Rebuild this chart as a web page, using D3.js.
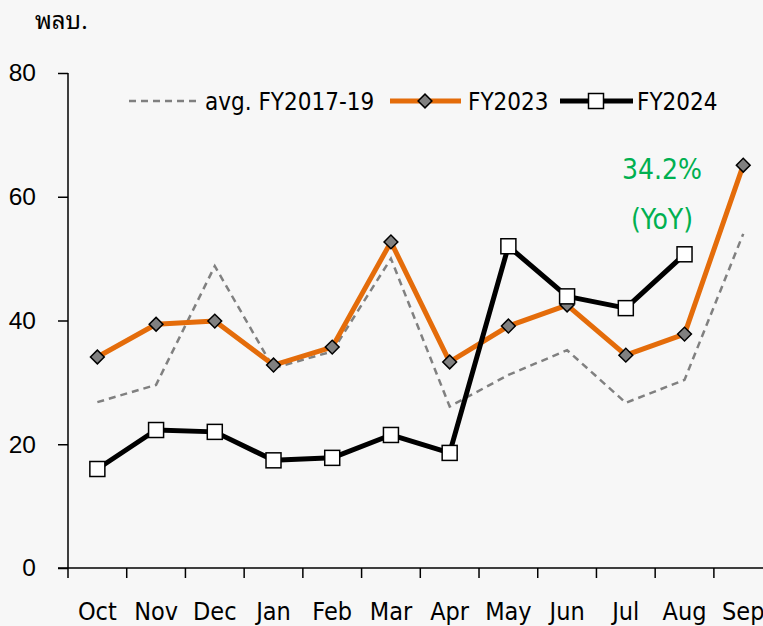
<!DOCTYPE html>
<html>
<head>
<meta charset="utf-8">
<script src="https://cdn.jsdelivr.net/npm/d3@7"></script>
<style>
  body { margin: 0; background: #f7f7f7; }
  svg { display: block; font-family: "DejaVu Sans Condensed", "DejaVu Sans", sans-serif; }
</style>
</head>
<body>
<div id="chart"></div>
<script>
const months = ["Oct", "Nov", "Dec", "Jan", "Feb", "Mar", "Apr", "May", "Jun", "Jul", "Aug", "Sep"];
const avg1719 = [26.8, 29.6, 48.8, 32.3, 35.0, 50.0, 26.1, 31.2, 35.2, 26.7, 30.4, 54.0];
const fy2023 = [34.1, 39.4, 39.9, 32.8, 35.7, 52.7, 33.3, 39.1, 42.5, 34.4, 37.8, 65.1];
const fy2024 = [16.0, 22.3, 22.0, 17.4, 17.8, 21.5, 18.6, 52.0, 43.9, 42.0, 50.7];
const yTicks = [0, 20, 40, 60, 80];

const colors = {
    avg: "#808080",
    fy23: "#e46c0a",
    fy24: "#000000",
    yoy: "#00b050"
};

const width = 763;
const height = 626;

const svg = d3.select("#chart")
    .append("svg")
    .attr("width", width)
    .attr("height", height);

svg.append("rect").attr("width", width).attr("height", height).attr("fill", "#f7f7f7");

const x = d3.scaleBand().domain(months).range([68, 772.6]);
const y = d3.scaleLinear().domain([0, 80]).range([568, 73]);
const cx = m => x(m) + x.bandwidth() / 2;

// axes
const yAxis = svg.append("g")
    .attr("transform", "translate(68,0)")
    .call(d3.axisLeft(y).tickValues(yTicks).tickSize(10).tickPadding(22));
yAxis.select(".domain").attr("stroke", "#000").attr("stroke-width", 1.5).attr("d", "M0,73V568");
yAxis.selectAll(".tick line").attr("stroke-width", 1.5);
yAxis.selectAll("text").style("font-size", "24.5px").attr("fill", "#000");

const xAxis = svg.append("g")
    .attr("transform", "translate(0,568)");
xAxis.append("line").attr("x1", 58).attr("x2", 763).attr("stroke", "#000").attr("stroke-width", 1.5);
xAxis.selectAll("line.tk")
    .data(months)
    .enter()
    .append("line")
    .attr("class", "tk")
    .attr("x1", d => x(d)).attr("x2", d => x(d))
    .attr("y1", 0).attr("y2", 10)
    .attr("stroke", "#000").attr("stroke-width", 1.5);
xAxis.selectAll("text")
    .data(months)
    .enter()
    .append("text")
    .attr("x", d => cx(d))
    .attr("y", 52)
    .attr("text-anchor", "middle")
    .style("font-size", "25px")
    .text(d => d);

// unit label
svg.append("text")
    .attr("x", 35).attr("y", 29)
    .style("font-size", "24px")
    .style("font-family", "'Noto Sans Thai Looped', Loma, Garuda, Tahoma, Kinnari, Norasi, 'Noto Serif Thai', 'Noto Sans Thai', sans-serif")
    .text("พลบ.");

const line = d3.line().x((d, i) => cx(months[i])).y(d => y(d));

svg.append("path")
    .datum(avg1719)
    .attr("d", line)
    .attr("fill", "none")
    .attr("stroke", colors.avg)
    .attr("stroke-width", 2.5)
    .attr("stroke-dasharray", "7,5");

svg.append("path")
    .datum(fy2023)
    .attr("d", line)
    .attr("fill", "none")
    .attr("stroke", colors.fy23)
    .attr("stroke-width", 5)
    .attr("stroke-linejoin", "round");

svg.append("path")
    .datum(fy2024)
    .attr("d", line)
    .attr("fill", "none")
    .attr("stroke", colors.fy24)
    .attr("stroke-width", 5)
    .attr("stroke-linejoin", "round");

const diamond = d3.symbol().type(d3.symbolSquare).size(95);

svg.selectAll(".d23")
    .data(fy2023)
    .enter()
    .append("path")
    .attr("class", "d23")
    .attr("d", diamond)
    .attr("transform", (d, i) => `translate(${cx(months[i])},${y(d)}) rotate(45)`)
    .attr("fill", "#808080")
    .attr("stroke", "#000")
    .attr("stroke-width", 1.5);

svg.selectAll(".s24")
    .data(fy2024)
    .enter()
    .append("rect")
    .attr("class", "s24")
    .attr("x", (d, i) => cx(months[i]) - 7.5)
    .attr("y", d => y(d) - 7.5)
    .attr("width", 15)
    .attr("height", 15)
    .attr("fill", "#fff")
    .attr("stroke", "#000")
    .attr("stroke-width", 1.5);

// legend
const legend = svg.append("g").style("font-size", "24px");
legend.append("line").attr("x1", 129).attr("x2", 199).attr("y1", 101).attr("y2", 101)
    .attr("stroke", colors.avg).attr("stroke-width", 2.5).attr("stroke-dasharray", "7,5");
legend.append("text").attr("x", 205).attr("y", 110).text("avg. FY2017-19");

legend.append("line").attr("x1", 390).attr("x2", 461).attr("y1", 101).attr("y2", 101)
    .attr("stroke", colors.fy23).attr("stroke-width", 5);
legend.append("path").attr("d", diamond)
    .attr("transform", "translate(425,101) rotate(45)")
    .attr("fill", "#808080").attr("stroke", "#000").attr("stroke-width", 1.5);
legend.append("text").attr("x", 468).attr("y", 110).text("FY2023");

legend.append("line").attr("x1", 560).attr("x2", 633).attr("y1", 101).attr("y2", 101)
    .attr("stroke", colors.fy24).attr("stroke-width", 5);
legend.append("rect").attr("x", 588.5).attr("y", 93.5).attr("width", 15).attr("height", 15)
    .attr("fill", "#fff").attr("stroke", "#000").attr("stroke-width", 1.5);
legend.append("text").attr("x", 637).attr("y", 110).text("FY2024");

// YoY note
svg.append("text").attr("x", 662).attr("y", 179).attr("text-anchor", "middle")
    .style("font-size", "28px").attr("fill", colors.yoy).text("34.2%");
svg.append("text").attr("x", 662).attr("y", 229).attr("text-anchor", "middle")
    .style("font-size", "28px").attr("fill", colors.yoy).text("(YoY)");
</script>
</body>
</html>
